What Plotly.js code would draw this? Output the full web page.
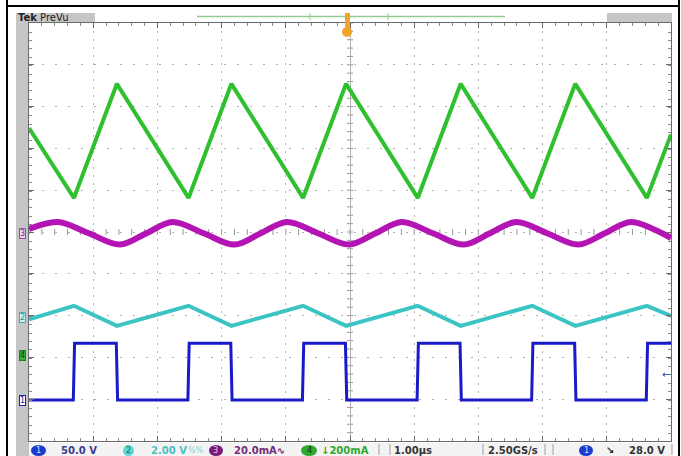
<!DOCTYPE html>
<html>
<head>
<meta charset="utf-8">
<script src="https://cdn.plot.ly/plotly-3.0.1.min.js"></script>
<style>
html,body{margin:0;padding:0;background:#fff;}
#chart{width:681px;height:456px;}
</style>
</head>
<body>
<div id="chart"></div>
<script>
// ---- Data (time in µs, trigger at 0) ----
// Channel 1 (blue) switch-node voltage, V
const ch1Time = [-5, -4.31, -4.29, -3.64, -3.62, -2.525, -2.505, -1.857, -1.837, -0.741, -0.721, -0.071, -0.051, 1.045, 1.065, 1.714, 1.734, 2.829, 2.849, 3.499, 3.519, 4.615, 4.635, 5];
const ch1Volts = [0, 0, 68, 68, 0, 0, 68, 68, 0, 0, 68, 68, 0, 0, 68, 68, 0, 0, 68, 68, 0, 0, 68, 68];
// Channel 2 (cyan) output ripple, V
const ch2Time = [-5, -4.30, -3.631, -2.515, -1.847, -0.731, -0.061, 1.055, 1.724, 2.839, 3.509, 4.625, 5];
const ch2Volts = [-0.12, 0.53, -0.43, 0.53, -0.43, 0.53, -0.43, 0.53, -0.43, 0.53, -0.43, 0.53, 0.05];
// Channel 3 (magenta) current ripple, mA
const ch3Time = [-5, -4.55, -4.07, -3.584, -3.17, -2.765, -2.28, -1.799, -1.39, -0.98, -0.50, -0.014, 0.40, 0.805, 1.29, 1.771, 2.18, 2.59, 3.07, 3.556, 3.97, 4.375, 4.86, 5];
const ch3mA = [1.4, 4.8, -0.6, -6.0, -0.6, 4.8, -0.6, -6.0, -0.6, 4.8, -0.6, -6.0, -0.6, 4.8, -0.6, -6.0, -0.6, 4.8, -0.6, -6.0, -0.6, 4.8, -0.6, -2.9];
// Channel 4 (green) inductor current, mA
const ch4Time = [-5, -4.30, -3.631, -2.515, -1.847, -0.731, -0.061, 1.055, 1.724, 2.839, 3.509, 4.625, 5];
const ch4mA = [1085, 751, 1297, 751, 1297, 751, 1297, 751, 1297, 751, 1297, 751, 1055];

// Channel settings: scale per division and ground position (divisions from centre)
const chScale = [50, 2, 20, 200];
const chOffset = [-4.02, -2.03, 0, -2.94];
const chColor = ['#1a1ac8', '#3cc4c4', '#b414b4', '#2ec02e'];

const rng = i => [(-5 - chOffset[i]) * chScale[i], (5 - chOffset[i]) * chScale[i]];

// pixel -> paper helpers (plot area x 29..671, y 23..441)
const X = p => (p - 29) / 642;
const Y = p => (441 - p) / 418;

const traces = [
  {x: ch4Time, y: ch4mA, xaxis: 'x', yaxis: 'y4', mode: 'lines', line: {color: chColor[3], width: 4}, hoverinfo: 'skip'},
  {x: ch3Time, y: ch3mA, xaxis: 'x', yaxis: 'y3', mode: 'lines', line: {color: chColor[2], width: 6, shape: 'spline', smoothing: 1}, hoverinfo: 'skip'},
  {x: ch2Time, y: ch2Volts, xaxis: 'x', yaxis: 'y2', mode: 'lines', line: {color: chColor[1], width: 4}, hoverinfo: 'skip'},
  {x: ch1Time, y: ch1Volts, xaxis: 'x', yaxis: 'y', mode: 'lines', line: {color: chColor[0], width: 3}, hoverinfo: 'skip'}
];

const chAx = (i) => ({range: rng(i), visible: false, fixedrange: true, overlaying: 'y'});

const gridAx = (dash) => ({
  range: [-5, 5], dtick: 1, tick0: -5, showticklabels: false,
  showgrid: true, gridcolor: '#b0b0b0', gridwidth: 1, griddash: dash,
  zeroline: true, zerolinecolor: '#b0b0b0', zerolinewidth: 1,
  showline: true, linecolor: '#6a6a6a', linewidth: 1, mirror: 'ticks',
  ticks: 'inside', ticklen: 5, tickcolor: '#6a6a6a',
  minor: {dtick: 0.2, ticks: 'inside', ticklen: 3, tickcolor: '#8a8a8a', showgrid: false},
  fixedrange: true
});

const shapes = [
  // page frame
  {type: 'line', xref: 'paper', yref: 'paper', x0: X(7), x1: X(7), y0: Y(0), y1: Y(456), line: {color: '#000', width: 2}},
  {type: 'line', xref: 'paper', yref: 'paper', x0: X(679), x1: X(679), y0: Y(0), y1: Y(456), line: {color: '#000', width: 2}},
  {type: 'line', xref: 'paper', yref: 'paper', x0: X(7), x1: X(679), y0: Y(6), y1: Y(6), line: {color: '#000', width: 2}},
  // screen gray margins
  {type: 'rect', xref: 'paper', yref: 'paper', x0: X(16), x1: X(29), y0: Y(456), y1: Y(13), fillcolor: '#c6c6c6', line: {width: 0}, layer: 'below'},
  {type: 'rect', xref: 'paper', yref: 'paper', x0: X(16), x1: X(95), y0: Y(23), y1: Y(13), fillcolor: '#c6c6c6', line: {width: 0}, layer: 'below'},
  {type: 'rect', xref: 'paper', yref: 'paper', x0: X(607), x1: X(672), y0: Y(23), y1: Y(13), fillcolor: '#c6c6c6', line: {width: 0}, layer: 'below'},
  {type: 'rect', xref: 'paper', yref: 'paper', x0: X(29), x1: X(672), y0: Y(456), y1: Y(443), fillcolor: '#f3f3f3', line: {width: 0}, layer: 'below'},
  // record view bar
  {type: 'line', xref: 'paper', yref: 'paper', x0: X(197), x1: X(505), y0: Y(16.5), y1: Y(16.5), line: {color: '#90cc90', width: 1.5}},
  {type: 'line', xref: 'paper', yref: 'paper', x0: X(310), x1: X(310), y0: Y(13), y1: Y(20), line: {color: '#90cc90', width: 1}},
  {type: 'line', xref: 'paper', yref: 'paper', x0: X(388), x1: X(388), y0: Y(13), y1: Y(20), line: {color: '#90cc90', width: 1}},
  // trigger marker
  {type: 'rect', xref: 'paper', yref: 'paper', x0: X(345), x1: X(350), y0: Y(28), y1: Y(13), fillcolor: '#f2a428', line: {width: 0}},
  {type: 'circle', xref: 'paper', yref: 'paper', x0: X(342), x1: X(352), y0: Y(37), y1: Y(27), fillcolor: '#f2a428', line: {width: 0}},
  // status bar separators
  {type: 'line', xref: 'paper', yref: 'paper', x0: X(379), x1: X(379), y0: Y(455), y1: Y(444), line: {color: '#a0a0a0', width: 1}},
  {type: 'line', xref: 'paper', yref: 'paper', x0: X(390), x1: X(390), y0: Y(455), y1: Y(444), line: {color: '#a0a0a0', width: 1}},
  {type: 'line', xref: 'paper', yref: 'paper', x0: X(483), x1: X(483), y0: Y(455), y1: Y(444), line: {color: '#a0a0a0', width: 1}},
  {type: 'line', xref: 'paper', yref: 'paper', x0: X(545), x1: X(545), y0: Y(455), y1: Y(444), line: {color: '#a0a0a0', width: 1}},
  {type: 'line', xref: 'paper', yref: 'paper', x0: X(553), x1: X(553), y0: Y(455), y1: Y(444), line: {color: '#a0a0a0', width: 1}},
  {type: 'line', xref: 'paper', yref: 'paper', x0: X(672), x1: X(672), y0: Y(455), y1: Y(444), line: {color: '#a0a0a0', width: 1}},
  // channel badges in status bar
  {type: 'circle', xref: 'paper', yref: 'paper', x0: X(31), x1: X(46), y0: Y(456), y1: Y(445), fillcolor: '#1a3ad0', line: {width: 0}},
  {type: 'circle', xref: 'paper', yref: 'paper', x0: X(123), x1: X(134), y0: Y(456), y1: Y(445), fillcolor: '#5cd6d6', line: {width: 0}},
  {type: 'circle', xref: 'paper', yref: 'paper', x0: X(209), x1: X(223), y0: Y(456), y1: Y(445), fillcolor: '#7a1a7a', line: {width: 0}},
  {type: 'circle', xref: 'paper', yref: 'paper', x0: X(301), x1: X(317), y0: Y(456), y1: Y(445), fillcolor: '#2ea82e', line: {width: 0}},
  {type: 'circle', xref: 'paper', yref: 'paper', x0: X(579), x1: X(593), y0: Y(456), y1: Y(445), fillcolor: '#1a3ad0', line: {width: 0}}
];

// graticule centre-line tick marks (decoration, every 1/5 division)
for (let k = -25; k <= 25; k++) {
  const v = k / 5;
  shapes.push({type: 'line', xref: 'x', yref: 'paper', x0: v, x1: v, y0: 0.5 - 3 / 418, y1: 0.5 + 3 / 418, line: {color: '#999', width: 1}, layer: 'below'});
  shapes.push({type: 'line', xref: 'paper', yref: 'paper', x0: 0.5 - 3 / 642, x1: 0.5 + 3 / 642, y0: 0.5 + v / 10, y1: 0.5 + v / 10, line: {color: '#999', width: 1}, layer: 'below'});
}

const A = (px, py, text, color, size, extra) => Object.assign({
  xref: 'paper', yref: 'paper', x: X(px), y: Y(py), text: text, showarrow: false,
  font: {family: 'DejaVu Sans', size: size, color: color}, xanchor: 'left', yanchor: 'middle'
}, extra || {});

const annotations = [
  A(16, 17.5, '<b>Tek</b> PreVu', '#222', 10),
  // channel ground markers
  A(22, 233, '3', '#7a2a7a', 8, {xanchor: 'center', bgcolor: '#ecd2ec', bordercolor: '#a050a0', borderwidth: 1, borderpad: 0}),
  A(22, 317, '2', '#2a8a8a', 8, {xanchor: 'center', bgcolor: '#cdeeee', bordercolor: '#40b0b0', borderwidth: 1, borderpad: 0}),
  A(22, 355, '4', '#114411', 8, {xanchor: 'center', bgcolor: '#34b034', bordercolor: '#208020', borderwidth: 1, borderpad: 0}),
  A(22, 400, '1', '#2020a0', 8, {xanchor: 'center', bgcolor: '#ffffff', bordercolor: '#2020a0', borderwidth: 1, borderpad: 0}),
  // trigger level arrow
  A(666, 374, '\u2190', '#1a3ad0', 10, {xanchor: 'center'}),
  // status bar
  A(38.5, 450.5, '1', '#e0e0ff', 8, {xanchor: 'center'}),
  A(59, 450.5, '<b>50.0 V</b>', '#3a3a90', 10),
  A(128.5, 450.5, '2', '#1a6a6a', 8, {xanchor: 'center'}),
  A(149, 450.5, '<b>2.00 V</b>', '#48c0c0', 10),
  A(186, 450, '%%', '#8ad0d0', 8),
  A(216, 450.5, '3', '#e8c8e8', 8, {xanchor: 'center'}),
  A(232, 450.5, '<b>20.0mA\u223F</b>', '#7a2a7a', 10),
  A(309, 450.5, '4', '#0a300a', 8, {xanchor: 'center'}),
  A(319, 450.5, '<b>\u2193200mA</b>', '#2ea82e', 10),
  A(392, 450.5, '<b>1.00\u00B5s</b>', '#333', 10),
  A(486, 450.5, '<b>2.50GS/s</b>', '#333', 10),
  A(586, 450.5, '1', '#e0e0ff', 8, {xanchor: 'center'}),
  A(604, 450.5, '<b>\u2198</b>', '#222', 10),
  A(627, 450.5, '<b>28.0 V</b>', '#333', 10)
];

// The 'y' axis carries channel 1 and also draws the horizontal graticule
// (one grid line per division, i.e. every 50 V of channel 1).
const layout = {
  width: 681, height: 456,
  margin: {l: 29, r: 10, t: 23, b: 15, pad: 0},
  paper_bgcolor: '#ffffff', plot_bgcolor: '#ffffff',
  showlegend: false,
  font: {family: 'DejaVu Sans'},
  xaxis: gridAx('2px,6px'),
  yaxis: Object.assign(gridAx('2px,11px'), {range: rng(0), tick0: rng(0)[0], dtick: chScale[0], minor: {dtick: chScale[0] / 5, ticks: 'inside', ticklen: 3, tickcolor: '#8a8a8a', showgrid: false}, zeroline: false}),
  yaxis2: chAx(1),
  yaxis3: chAx(2),
  yaxis4: chAx(3),
  shapes: shapes,
  annotations: annotations
};

Plotly.newPlot('chart', traces, layout, {staticPlot: true, displayModeBar: false});
</script>
</body>
</html>
